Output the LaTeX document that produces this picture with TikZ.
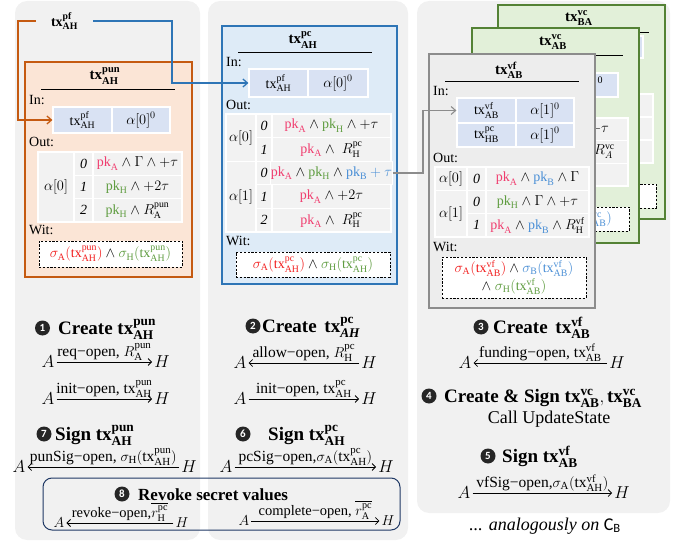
\documentclass[tikz,border=0pt]{standalone}
\usepackage{amsmath}
\usepackage{fontspec}
\setmainfont{Liberation Serif}
\setsansfont{Carlito}
\usetikzlibrary{arrows.meta}

\definecolor{panelbg}{HTML}{F1F1F1}
\definecolor{punfill}{HTML}{FBE5D6}
\definecolor{pundraw}{HTML}{C55A11}
\definecolor{pcfill}{HTML}{DEEBF7}
\definecolor{pcdraw}{HTML}{2E75B6}
\definecolor{vffill}{HTML}{EDEDED}
\definecolor{vfdraw}{HTML}{8C8C8C}
\definecolor{vcfill}{HTML}{E2F0D9}
\definecolor{vcdraw}{HTML}{548235}
\definecolor{incell}{HTML}{D9E2F3}
\definecolor{outcell}{HTML}{F2F2F2}
\definecolor{keyA}{HTML}{F03C6E}
\definecolor{sigred}{HTML}{F21D1D}
\definecolor{keyH}{HTML}{5E9C3F}
\definecolor{keyB}{HTML}{4A8FD6}
\definecolor{revokeline}{HTML}{1F3864}
\definecolor{dotfill}{HTML}{262626}

\newcommand\tabfont{\fontsize{14}{18}\selectfont}
\newcommand\txx[2]{\mathrm{tx}^{\mathrm{#1}}_{\mathrm{#2}}}
\newcommand\btx[2]{\mathbf{tx}^{\mathbf{#1}}_{\mathbf{#2}}}
\newcommand\pkA{\textcolor{keyA}{\mathrm{pk}_{\mathrm{A}}}}
\newcommand\pkH{\textcolor{keyH}{\mathrm{pk}_{\mathrm{H}}}}
\newcommand\pkB{\textcolor{keyB}{\mathrm{pk}_{\mathrm{B}}}}
\newcommand\sigA[1]{\textcolor{sigred}{\sigma_{\mathrm{A}}(#1)}}
\newcommand\sigH[1]{\textcolor{keyH}{\sigma_{\mathrm{H}}(#1)}}
\newcommand\sigB[1]{\textcolor{keyB}{\sigma_{\mathrm{B}}(#1)}}

% table cell from its corners: style, name, x1, y1, x2, y2, text
\newcommand\cellat[7]{%
  \pgfmathsetmacro\cellW{#5-#3}%
  \pgfmathsetmacro\cellH{#6-#4}%
  \pgfmathsetmacro\cellX{(#3+#5)/2}%
  \pgfmathsetmacro\cellY{(#4+#6)/2}%
  \node[#1, minimum width=\cellW pt, minimum height=\cellH pt] (#2) at (\cellX,\cellY) {#7};}

\tikzset{
  cell/.style={draw=white, line width=1.2pt, inner sep=0pt, font=\tabfont},
  incellst/.style={cell, fill=incell},
  outcellst/.style={cell, fill=outcell},
  witbox/.style={draw=black, fill=white, line width=0.9pt, dash pattern=on 2.2pt off 1.6pt,
                 inner sep=0pt, font=\tabfont, align=center},
  cardttl/.style={font=\bfseries\fontsize{15}{17}\selectfont, inner sep=0pt},
  sect/.style={anchor=west, font=\tabfont, inner sep=0pt},
  tabtxt/.style={font=\tabfont, inner sep=0pt},
  conn/.style={line width=1.3pt, -{Straight Barb[length=4.5pt,width=8pt]}},
  party/.style={font=\fontsize{17}{19}\selectfont, inner sep=2pt},
  smallparty/.style={font=\fontsize{15}{17}\selectfont, inner sep=2pt},
  msg/.style={line width=0.8pt, -{Straight Barb[length=3.5pt,width=7pt]}},
  msglbl/.style={font=\fontsize{15.5}{17}\selectfont, inner sep=1pt, above},
  smallmsglbl/.style={msglbl, font=\fontsize{14.5}{16}\selectfont},
  numdot/.style={circle, fill=dotfill, text=white, font=\sffamily\bfseries\fontsize{11}{11}\selectfont,
                 minimum size=15pt, inner sep=0pt},
  steptitle/.style={font=\bfseries\fontsize{19}{21}\selectfont, inner sep=0pt, anchor=base west},
}

\begin{document}
\begin{tikzpicture}[x=1pt,y=-1pt]
\useasboundingbox (0,0) rectangle (680,548);

% three background panels
\fill[panelbg, rounded corners=12pt] (15,1) rectangle (200,540);
\fill[panelbg, rounded corners=12pt] (208,1) rectangle (408,540);
\fill[panelbg, rounded corners=12pt] (417,1) rectangle (670,513);

% ---- stacked commitment cards (back to front) ----
\draw[vcdraw, fill=vcfill, line width=1.8pt] (498,5) rectangle (665,219);
\node[cardttl] (vcbattl) at (579,18) {$\btx{vc}{BA}$};
\draw[line width=0.9pt] (514,32) -- (649,32);
\cellat{incellst}{vcbain1}{526}{36}{585}{58}{}
\cellat{incellst}{vcbain2}{585}{36}{643}{58}{}
\cellat{outcellst}{vcbao1}{504}{94}{653}{117}{}
\cellat{outcellst}{vcbao2}{504}{117}{653}{140}{}
\cellat{outcellst}{vcbao3}{504}{140}{653}{163}{}
\cellat{witbox}{vcbawit}{511}{184}{656}{208}{}

\draw[vcdraw, fill=vcfill, line width=1.8pt] (472,28) rectangle (639,243);
\node[cardttl] (vcabttl) at (553,42) {$\btx{vc}{AB}$};
\draw[line width=0.9pt] (488,55) -- (623,55);
\cellat{incellst}{vcabin1}{500}{73}{559}{97}{}
\cellat{incellst}{vcabin2}{559}{73}{618}{97}{}
\node[inner sep=0pt, font=\fontsize{10}{10}\selectfont] (vcabexp) at (600,80) {0};
\cellat{outcellst}{vcabo1}{478}{118}{628}{140.7}{}
\cellat{outcellst}{vcabo2}{478}{140.7}{628}{163.3}{}
\cellat{outcellst}{vcabo3}{478}{163.3}{628}{186}{}
\node[tabtxt, anchor=east] (vcabtau) at (609,129.3) {$+\tau$};
\node[tabtxt, anchor=east] (vcabR) at (615,152) {$R^{\mathrm{vc}}_{A}$};
\cellat{witbox}{vcabwit}{485}{207}{629}{231}{}
\node[tabtxt, anchor=east] (vcabsig) at (612,219) {$\textcolor{keyB}{{}^{\mathrm{vc}}_{\mathrm{AB}})}$};

% ---- virtual funding card ----
\draw[vfdraw, fill=vffill, line width=1.8pt] (429,54) rectangle (595,308);
\node[cardttl] (vfttl) at (509,70) {$\btx{vf}{AB}$};
\draw[line width=0.9pt] (445,81) -- (579,81);
\node[sect] (vfinl) at (433,91) {In:};
\cellat{incellst}{vfin1}{457}{98}{516}{123}{$\txx{vf}{AB}$}
\cellat{incellst}{vfin2}{516}{98}{574}{123}{$\alpha[1]^0$}
\cellat{incellst}{vfin3}{457}{123}{516}{147}{$\txx{pc}{HB}$}
\cellat{incellst}{vfin4}{516}{123}{574}{147}{$\alpha[1]^0$}
\node[sect] (vfoutl) at (433,158) {Out:};
\cellat{outcellst}{vfa0}{435}{167}{467}{190.3}{$\alpha[0]$}
\cellat{outcellst}{vfi0}{467}{167}{486}{190.3}{\textit{0}}
\cellat{outcellst}{vfc0}{486}{167}{589}{190.3}{$\pkA\wedge\pkB\wedge\Gamma$}
\cellat{outcellst}{vfa1}{435}{190.3}{467}{237}{$\alpha[1]$}
\cellat{outcellst}{vfi1}{467}{190.3}{486}{213.7}{\textit{0}}
\cellat{outcellst}{vfc1}{486}{190.3}{589}{213.7}{$\pkH\wedge\Gamma\wedge+\tau$}
\cellat{outcellst}{vfi2}{467}{213.7}{486}{237}{\textit{1}}
\cellat{outcellst}{vfc2}{486}{213.7}{589}{237}{$\pkA\wedge\pkB\wedge R^{\mathrm{vf}}_{\mathrm{H}}$}
\node[sect] (vfwitl) at (433,247) {Wit:};
\cellat{witbox}{vfwit}{442}{257}{586}{298}{$\sigA{\txx{vf}{AB}}\wedge\sigB{\txx{vf}{AB}}$\\$\wedge\ \sigH{\txx{vf}{AB}}$}

% ---- punishment card ----
\draw[pundraw, fill=punfill, line width=1.5pt] (25,62) rectangle (192,277);
\node[cardttl] (punttl) at (105,76) {$\btx{pun}{AH}$};
\draw[line width=0.9pt] (41,89) -- (175,89);
\node[sect] (puninl) at (29,100) {In:};
\cellat{incellst}{punin1}{53}{107}{112}{133}{$\txx{pf}{AH}$}
\cellat{incellst}{punin2}{112}{107}{170}{133}{$\alpha[0]^0$}
\node[sect] (punoutl) at (29,142) {Out:};
\cellat{outcellst}{puna}{38}{152}{74}{222}{$\alpha[0]$}
\cellat{outcellst}{puni1}{74}{152}{93}{175.3}{\textit{0}}
\cellat{outcellst}{puni2}{74}{175.3}{93}{198.7}{\textit{1}}
\cellat{outcellst}{puni3}{74}{198.7}{93}{222}{\textit{2}}
\cellat{outcellst}{punr1}{93}{152}{182}{175.3}{$\pkA\wedge\Gamma\wedge+\tau$}
\cellat{outcellst}{punr2}{93}{175.3}{182}{198.7}{$\pkH\wedge+2\tau$}
\cellat{outcellst}{punr3}{93}{198.7}{182}{222}{$\pkH\wedge R^{\mathrm{pun}}_{\mathrm{A}}$}
\node[sect] (punwitl) at (29,230) {Wit:};
\cellat{witbox}{punwit}{39}{241}{182}{267}{$\sigA{\txx{pun}{AH}}\wedge\sigH{\txx{pun}{AH}}$}

% ---- payment channel card ----
\draw[pcdraw, fill=pcfill, line width=1.8pt] (222,26) rectangle (397,284);
\node[cardttl] (pcttl) at (303,40) {$\btx{pc}{AH}$};
\draw[line width=0.9pt] (238,52) -- (372,52);
\node[sect] (pcinl) at (226,62) {In:};
\cellat{incellst}{pcin1}{249}{69}{308}{97}{$\txx{pf}{AH}$}
\cellat{incellst}{pcin2}{308}{69}{368}{97}{$\alpha[0]^0$}
\node[sect] (pcoutl) at (226,105) {Out:};
\cellat{outcellst}{pca0}{226}{114}{256}{161.2}{$\alpha[0]$}
\cellat{outcellst}{pca1}{226}{161.2}{256}{232}{$\alpha[1]$}
\cellat{outcellst}{pci1}{256}{114}{272}{137.6}{\textit{0}}
\cellat{outcellst}{pci2}{256}{137.6}{272}{161.2}{\textit{1}}
\cellat{outcellst}{pci3}{256}{161.2}{272}{184.8}{\textit{0}}
\cellat{outcellst}{pci4}{256}{184.8}{272}{208.4}{\textit{1}}
\cellat{outcellst}{pci5}{256}{208.4}{272}{232}{\textit{2}}
\cellat{outcellst}{pcr1}{272}{114}{391}{137.6}{$\pkA\wedge\pkH\wedge+\tau$}
\cellat{outcellst}{pcr2}{272}{137.6}{391}{161.2}{$\pkA\wedge\;R^{\mathrm{pc}}_{\mathrm{H}}$}
\cellat{outcellst}{pcr3}{272}{161.2}{391}{184.8}{$\pkA\wedge\pkH\wedge\textcolor{keyB}{\mathrm{pk}_{\mathrm{B}}+\tau}$}
\cellat{outcellst}{pcr4}{272}{184.8}{391}{208.4}{$\pkA\wedge+2\tau$}
\cellat{outcellst}{pcr5}{272}{208.4}{391}{232}{$\pkA\wedge\;R^{\mathrm{pc}}_{\mathrm{H}}$}
\node[sect] (pcwitl) at (226,241) {Wit:};
\cellat{witbox}{pcwit}{236}{252}{390}{277}{$\sigA{\txx{pc}{AH}}\wedge\sigH{\txx{pc}{AH}}$}

% ---- funding transaction and its outputs ----
\node[font=\bfseries\fontsize{14}{16}\selectfont, minimum width=57pt, inner sep=0pt] (pf) at (64.5,21) {$\btx{pf}{AH}$};
\coordinate (pfbendL) at (18,21);
\coordinate (pfbendR) at (172,21);
\coordinate (vfbend) at (423,172);
\draw[conn, pundraw] (pf.west) -- (pfbendL) |- (punin1.west);
\draw[conn, pcdraw] (pf.east) -- (pfbendR) |- (pcin1.west);
\draw[conn, vfdraw, line width=1.1pt] (pcr3.east) -- (pcr3.east -| vfbend) |- (vfin1.west);

% ---- protocol steps, left column ----
\node[numdot] (d1) at (42.5,328) {1};
\node[steptitle] (t1) at (58,334) {Create $\btx{pun}{AH}$};
\node[party] (pa1) at (48,362) {$A$};
\node[party] (ph1) at (162,362) {$H$};
\draw[msg] (pa1) -- node[msglbl] {req−open, $R^{\mathrm{pun}}_{\mathrm{A}}$} (ph1);
\node[party] (pa2) at (48,399) {$A$};
\node[party] (ph2) at (162,399) {$H$};
\draw[msg] (pa2) -- node[msglbl] {init−open, $\txx{pun}{AH}$} (ph2);

\node[numdot] (d7) at (44,434) {7};
\node[steptitle] (t7) at (55,440) {Sign $\btx{pun}{AH}$};
\node[party] (pa3) at (19,467) {$A$};
\node[party] (ph3) at (189,467) {$H$};
\draw[msg] (ph3) -- node[msglbl] {punSig−open, $\sigma_{\mathrm{H}}(\txx{pun}{AH})$} (pa3);

% ---- protocol steps, middle column ----
\node[numdot] (d2) at (253,326) {2};
\node[steptitle] (t2) at (262,332) {Create\hspace{3pt} $\mathbf{tx}^{\mathbf{pc}}_{\text{\itshape AH}}$};
\node[party] (pa5) at (240,363) {$A$};
\node[party] (ph5) at (369,363) {$H$};
\draw[msg] (ph5) -- node[msglbl] {allow−open, $R^{\mathrm{pc}}_{\mathrm{H}}$} (pa5);
\node[party] (pa6) at (240,399) {$A$};
\node[party] (ph6) at (369,399) {$H$};
\draw[msg] (pa6) -- node[msglbl] {init−open, $\txx{pc}{AH}$} (ph6);

\node[numdot] (d6) at (243,434) {6};
\node[steptitle] (t6) at (268,440) {Sign $\btx{pc}{AH}$};
\node[party] (pa7) at (226,467) {$A$};
\node[party] (ph7) at (386,467) {$H$};
\draw[msg] (pa7) -- node[msglbl] {pcSig−open,$\sigma_{\mathrm{A}}(\txx{pc}{AH})$} (ph7);

% ---- revocation, spanning both columns ----
\draw[revokeline, line width=1pt, rounded corners=9pt] (43,478) rectangle (400,530);
\node[numdot] (d8) at (122,494) {8};
\node[steptitle, font=\bfseries\fontsize{17}{19}\selectfont] (t8) at (138,500) {Revoke secret values};
\node[smallparty] (pa4) at (59,523) {$A$};
\node[smallparty] (ph4) at (182,523) {$H$};
\draw[msg] (ph4) -- node[smallmsglbl] {revoke−open,$\overline{r^{\mathrm{pc}}_{\mathrm{H}}}$} (pa4);
\node[smallparty] (pa8) at (244,521) {$A$};
\node[smallparty] (ph8) at (388,521) {$H$};
\draw[msg] (pa8) -- node[smallmsglbl] {complete−open, $\overline{r^{\mathrm{pc}}_{\mathrm{A}}}$} (ph8);

% ---- protocol steps, right column ----
\node[numdot] (d3) at (481,327) {3};
\node[steptitle] (t3) at (493,333) {Create\hspace{3pt} $\btx{vf}{AB}$};
\node[party] (pa9) at (465,363) {$A$};
\node[party] (ph9) at (617,363) {$H$};
\draw[msg] (ph9) -- node[msglbl] {funding−open, $\txx{vf}{AB}$} (pa9);

\node[numdot] (d4) at (429,396) {4};
\node[steptitle] (t4) at (444,402) {Create \& Sign $\btx{vc}{AB}, \btx{vc}{BA}$};
\node[font=\fontsize{18}{20}\selectfont, inner sep=0pt, anchor=base] (callus) at (549,423) {Call UpdateState};

\node[numdot] (d5) at (488,456) {5};
\node[steptitle] (t5) at (502,462) {Sign $\btx{vf}{AB}$};
\node[party] (pa10) at (464,493) {$A$};
\node[party] (ph10) at (622,493) {$H$};
\draw[msg] (pa10) -- node[msglbl] {vfSig−open,$\sigma_{\mathrm{A}}(\txx{vf}{AH})$} (ph10);

\node[font=\fontsize{18}{20}\selectfont, inner sep=0pt, anchor=base] (analog) at (545,530)
  {\textit{... analogously on} $\mathsf{C}_{\mathsf{B}}$};
\end{tikzpicture}
\end{document}
